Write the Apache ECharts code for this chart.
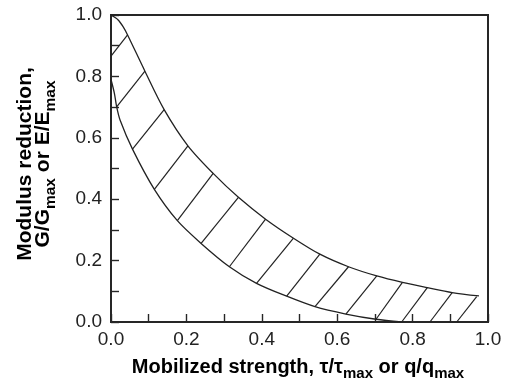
<!DOCTYPE html>
<html>
<head>
<meta charset="utf-8">
<script src="https://cdn.jsdelivr.net/npm/echarts@6/dist/echarts.min.js"></script>
<style>
  html, body { margin: 0; padding: 0; background: #fff; }
  #chart { width: 509px; height: 381px; }
</style>
</head>
<body>
<div id="chart"></div>
<script>
// Upper bound of the modulus-reduction band: [mobilized strength, G/Gmax]
const upperBound = [
  [0.000, 1.000], [0.019, 0.984], [0.032, 0.962], [0.044, 0.935],
  [0.090, 0.817], [0.141, 0.692], [0.204, 0.574], [0.271, 0.484],
  [0.338, 0.406], [0.410, 0.335], [0.484, 0.273], [0.554, 0.221],
  [0.630, 0.180], [0.705, 0.150], [0.773, 0.129], [0.839, 0.112],
  [0.905, 0.096], [0.976, 0.085]
];

// Lower bound of the band
const lowerBound = [
  [0.000, 0.790], [0.009, 0.745], [0.015, 0.701], [0.024, 0.658],
  [0.057, 0.563], [0.115, 0.432], [0.176, 0.330], [0.239, 0.256],
  [0.314, 0.180], [0.386, 0.126], [0.466, 0.084], [0.541, 0.050],
  [0.623, 0.026], [0.703, 0.009], [0.771, 0.000]
];

// Hatch strokes across the band: start (lower side) and end (upper side)
const hatchFrom = [
  [0.000, 0.866], [0.015, 0.701], [0.057, 0.563], [0.115, 0.432],
  [0.176, 0.330], [0.239, 0.256], [0.314, 0.180], [0.386, 0.126],
  [0.466, 0.084], [0.541, 0.050], [0.623, 0.026], [0.703, 0.009],
  [0.771, 0.000], [0.846, 0.000], [0.917, 0.000]
];
const hatchTo = [
  [0.044, 0.935], [0.090, 0.817], [0.141, 0.692], [0.204, 0.574],
  [0.271, 0.484], [0.338, 0.406], [0.410, 0.335], [0.484, 0.273],
  [0.554, 0.221], [0.630, 0.180], [0.705, 0.150], [0.773, 0.129],
  [0.839, 0.112], [0.905, 0.096], [0.970, 0.083]
];

// Axis ranges and labelled tick values
const axisMin = 0;
const axisMax = 1.0;
const tickStep = 0.1;
const labelledTicks = [0.0, 0.2, 0.4, 0.6, 0.8, 1.0];

const FONT = 'Liberation Sans';
const INK = '#222';

function tickLabel(v) {
  const hit = labelledTicks.some(t => Math.abs(t - v) < 1e-6);
  return hit ? v.toFixed(1) : '';
}

const axisCommon = {
  type: 'value',
  min: axisMin,
  max: axisMax,
  interval: tickStep,
  splitLine: { show: false },
  axisLine: { show: true, lineStyle: { color: '#262626', width: 2 } },
  axisTick: { show: true, inside: true, length: 8, lineStyle: { color: '#262626', width: 1.4 } },
  axisLabel: {
    formatter: tickLabel,
    fontFamily: FONT, fontSize: 19, color: INK,
    showMinLabel: true, showMaxLabel: true
  }
};

const chart = echarts.init(document.getElementById('chart'), null, { renderer: 'canvas' });

const hatchData = hatchFrom.map((p, i) => ({ coords: [p, hatchTo[i]] }));

// Bold title text with lowered "max" subscripts
function titleRich(size, subSize, lh) {
  return {
    b: { fontFamily: FONT, fontSize: size, fontWeight: 'bold', color: INK, lineHeight: lh, verticalAlign: 'top' },
    s: { fontFamily: FONT, fontSize: subSize, fontWeight: 'bold', color: INK, lineHeight: 12, padding: [lh - 8, 0, 0, 0], verticalAlign: 'top' }
  };
}

chart.setOption({
  animation: false,
  backgroundColor: '#fff',
  grid: {
    left: 111, top: 15, right: 21, bottom: 59,
    show: true, borderColor: '#262626', borderWidth: 2
  },
  xAxis: Object.assign({}, axisCommon, {
    axisLabel: Object.assign({}, axisCommon.axisLabel, { margin: 8 })
  }),
  yAxis: Object.assign({}, axisCommon, {
    axisLabel: Object.assign({}, axisCommon.axisLabel, { margin: 9 })
  }),
  graphic: [
    {
      type: 'text',
      x: 298, y: 357,
      style: {
        text: '{b|Mobilized strength, τ/τ}{s|max}{b| or q/q}{s|max}',
        rich: titleRich(20, 15, 17),
        align: 'center',
        verticalAlign: 'top'
      }
    },
    {
      type: 'text',
      x: 33, y: 164,
      rotation: Math.PI / 2,
      style: {
        text: '{b|Modulus reduction,}\n{b|G/G}{s|max}{b| or E/E}{s|max}',
        rich: titleRich(21, 15.5, 18),
        align: 'center',
        verticalAlign: 'middle'
      }
    }
  ],
  series: [
    {
      type: 'line',
      data: upperBound,
      smooth: 0.3,
      showSymbol: false,
      lineStyle: { color: INK, width: 1.3 }
    },
    {
      type: 'line',
      data: lowerBound,
      smooth: 0.3,
      showSymbol: false,
      lineStyle: { color: INK, width: 1.3 }
    },
    {
      type: 'lines',
      coordinateSystem: 'cartesian2d',
      data: hatchData,
      lineStyle: { color: INK, width: 1.2, opacity: 1 }
    }
  ]
});
</script>
</body>
</html>
